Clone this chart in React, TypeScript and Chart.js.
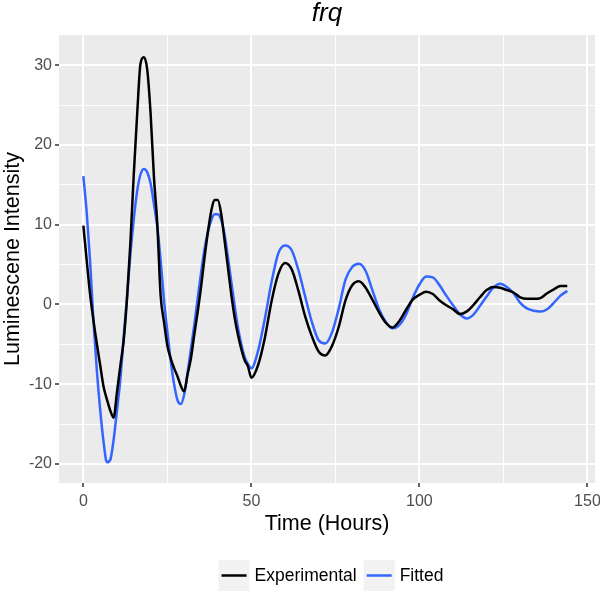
import React, { useEffect, useRef } from 'react';
import { Chart, registerables } from 'chart.js';

Chart.register(...registerables);

const chartTitle = 'frq';
const xAxisTitle = 'Time (Hours)';
const yAxisTitle = 'Luminescene Intensity';
const seriesNames = ['Experimental', 'Fitted'];
const seriesColors = ['#000000', '#3366FF'];

const timeHours = [
  0, 1, 2, 3, 4, 5, 6, 7, 8, 9, 10, 11, 12, 13, 14, 15, 16, 17, 18, 19, 20,
  21, 22, 23, 24, 25, 26, 27, 28, 29, 30, 31, 32, 33, 34, 35, 36, 37, 38, 39, 40,
  41, 42, 43, 44, 45, 46, 47, 48, 49, 50,
  52, 54, 56, 58, 60, 62, 64, 66, 68, 70, 72, 74, 76, 78, 80, 82, 84, 86, 88, 90,
  92, 94, 96, 98, 100, 102, 104, 106, 108, 110, 112, 114, 116, 118, 120, 122, 124,
  126, 128, 130, 132, 134, 136, 138, 140, 142, 144,
];

const experimental = [
  9.9, 5.5, 1.3, -2.0, -4.9, -7.6, -10.3, -11.9, -13.3, -14.2, -11.0,
  -7.7, -4.5, 0.8, 7.8, 16.3, 23.8, 30.2, 31.0, 29.5, 24.0,
  16.0, 10.1, 1.1, -2.2, -5.2, -6.8, -8.0, -9.0, -10.2, -10.9,
  -8.8, -6.8, -3.8, -1.0, 2.1, 5.7, 8.9, 11.6, 13.1, 13.1,
  11.4, 8.1, 4.7, 1.3, -1.6, -3.8, -5.6, -7.0, -7.8, -9.2,
  -7.6, -4.2, 0.4, 3.8, 5.2, 4.4, 1.7, -1.5, -4.0, -5.9,
  -6.4, -5.2, -2.8, 0.5, 2.4, 2.9, 2.1, 0.6, -1.0, -2.3,
  -2.9, -2.1, -0.7, 0.6, 1.2, 1.6, 1.3, 0.5, -0.1, -0.6,
  -1.2, -0.9, -0.1, 0.9, 1.8, 2.2, 2.1, 1.8, 1.5, 0.9,
  0.7, 0.7, 0.8, 1.4, 1.9, 2.3, 2.3,
];

const fitted = [
  16.1, 11.5, 5.4, -2.0, -8.2, -13.2, -17.2, -19.8, -19.5, -17.0, -13.3,
  -9.4, -4.0, 1.0, 6.3, 10.7, 14.2, 16.3, 17.0, 16.6, 15.2,
  12.6, 9.7, 5.5, 0.5, -3.4, -7.1, -10.0, -12.0, -12.5, -11.3,
  -8.6, -5.6, -2.6, 0.7, 3.9, 6.8, 9.0, 10.5, 11.3, 11.3,
  10.6, 8.8, 6.0, 2.9, -0.1, -2.9, -5.0, -6.6, -7.5, -8.0,
  -5.8, -1.8, 2.8, 6.4, 7.4, 6.8, 4.3, 1.0, -2.2, -4.5,
  -4.9, -3.5, -0.5, 3.1, 4.7, 5.1, 4.2, 1.8, -0.6, -2.2,
  -3.0, -2.6, -1.3, 0.8, 2.5, 3.5, 3.4, 2.4, 1.1, -0.1,
  -1.2, -1.75, -1.3, -0.2, 1.0, 2.1, 2.6, 2.2, 1.4, 0.2,
  -0.5, -0.8, -0.9, -0.6, 0.2, 1.1, 1.7,
];

const xTickStep = 25;
const xMajorStep = 50;
const yTickStep = 5;
const yMajorStep = 10;

const FONT = '"Liberation Sans", Arial, Helvetica, sans-serif';

const panelBackground = {
  id: 'panelBackground',
  beforeDraw(chart: any) {
    const { ctx, chartArea: a } = chart;
    ctx.save();
    ctx.fillStyle = '#EBEBEB';
    ctx.fillRect(a.left, a.top, a.right - a.left, a.bottom - a.top);
    ctx.restore();
  },
};

const ggLegend = {
  id: 'ggLegend',
  afterDraw(chart: any) {
    const ctx = chart.ctx;
    const a = chart.chartArea;
    ctx.save();
    ctx.font = `17.5px ${FONT}`;
    const key = 31;
    const textGap = 5;
    const itemGap = 7;
    const items = chart.data.datasets.map((ds: any) => ({
      text: ds.label,
      color: ds.borderColor,
      w: ctx.measureText(ds.label).width,
    }));
    const total = items.reduce(
      (s: number, it: any, i: number) => s + key + textGap + it.w + (i ? itemGap : 0),
      0
    );
    let x = (a.left + a.right) / 2 + 4 - total / 2;
    const top = 560;
    const cy = top + key / 2;
    items.forEach((it: any) => {
      ctx.fillStyle = '#F2F2F2';
      ctx.fillRect(x, top, key, key);
      ctx.strokeStyle = it.color;
      ctx.lineWidth = 2.5;
      ctx.beginPath();
      ctx.moveTo(x + 3, cy);
      ctx.lineTo(x + key - 3, cy);
      ctx.stroke();
      ctx.fillStyle = '#000000';
      ctx.textBaseline = 'middle';
      ctx.textAlign = 'left';
      ctx.fillText(it.text, x + key + textGap, cy + 1);
      x += key + textGap + it.w + itemGap;
    });
    ctx.restore();
  },
};

export default function App() {
  const canvasRef = useRef<HTMLCanvasElement | null>(null);

  useEffect(() => {
    if (!canvasRef.current) return;
    Chart.defaults.font.family = FONT;
    const datasets = [experimental, fitted].map((vals, i) => ({
      label: seriesNames[i],
      data: timeHours.map((t, j) => ({ x: t, y: vals[j] })),
      borderColor: seriesColors[i],
      backgroundColor: seriesColors[i],
      borderWidth: 2.5,
      pointRadius: 0,
      fill: false,
      cubicInterpolationMode: 'monotone' as const,
    }));

    const chart = new Chart(canvasRef.current, {
      type: 'line',
      data: { datasets },
      plugins: [panelBackground, ggLegend],
      options: {
        animation: false,
        responsive: false,
        maintainAspectRatio: false,
        layout: { padding: { left: 0, right: 5, top: 0, bottom: 49 } },
        plugins: {
          legend: { display: false },
          tooltip: { enabled: false },
          title: {
            display: true,
            fullSize: false,
            text: chartTitle,
            color: '#000000',
            font: { size: 26, style: 'italic', weight: 'normal', family: FONT, lineHeight: 1 },
            padding: { top: 1, bottom: 8 },
          },
        },
        scales: {
          x: {
            type: 'linear',
            min: -7.25,
            max: 152.25,
            afterFit(s: any) {
              s.height = 60;
              s.paddingLeft = 0;
              s.paddingRight = 0;
            },
            border: { display: false },
            grid: {
              color: '#FFFFFF',
              lineWidth: (c: any) => (c.tick && c.tick.value % xMajorStep === 0 ? 2 : 1),
              tickColor: (c: any) =>
                c.tick && c.tick.value % xMajorStep === 0 ? '#333333' : 'rgba(0,0,0,0)',
              tickLength: 4,
              tickWidth: 1.5,
            },
            ticks: {
              stepSize: xTickStep,
              includeBounds: false,
              autoSkip: false,
              maxRotation: 0,
              color: '#4D4D4D',
              padding: 5,
              font: { size: 16, family: FONT },
              callback: (v: any) => (Number(v) % xMajorStep === 0 ? String(v) : ''),
            },
            title: {
              display: true,
              text: xAxisTitle,
              color: '#000000',
              font: { size: 21.5, family: FONT },
              padding: { top: 0, bottom: 6 },
            },
          },
          y: {
            type: 'linear',
            min: -22.4,
            max: 33.8,
            afterFit(s: any) {
              s.width = 59;
              s.paddingTop = 0;
              s.paddingBottom = 0;
            },
            border: { display: false },
            grid: {
              color: '#FFFFFF',
              lineWidth: (c: any) => (c.tick && c.tick.value % yMajorStep === 0 ? 2 : 1),
              tickColor: (c: any) =>
                c.tick && c.tick.value % yMajorStep === 0 ? '#333333' : 'rgba(0,0,0,0)',
              tickLength: 4,
              tickWidth: 1.5,
            },
            ticks: {
              stepSize: yTickStep,
              includeBounds: false,
              autoSkip: false,
              color: '#4D4D4D',
              padding: 3,
              font: { size: 16, family: FONT },
              callback: (v: any) => (Number(v) % yMajorStep === 0 ? String(v) : ''),
            },
            title: {
              display: true,
              text: yAxisTitle,
              color: '#000000',
              font: { size: 21.5, family: FONT },
              padding: { top: 0, bottom: 0 },
            },
          },
        },
      },
    });
    return () => chart.destroy();
  }, []);

  return (
    <div style={{ position: 'absolute', left: 0, top: 0, width: 600, height: 592, background: '#FFFFFF' }}>
      <canvas ref={canvasRef} width={600} height={592} />
    </div>
  );
}
